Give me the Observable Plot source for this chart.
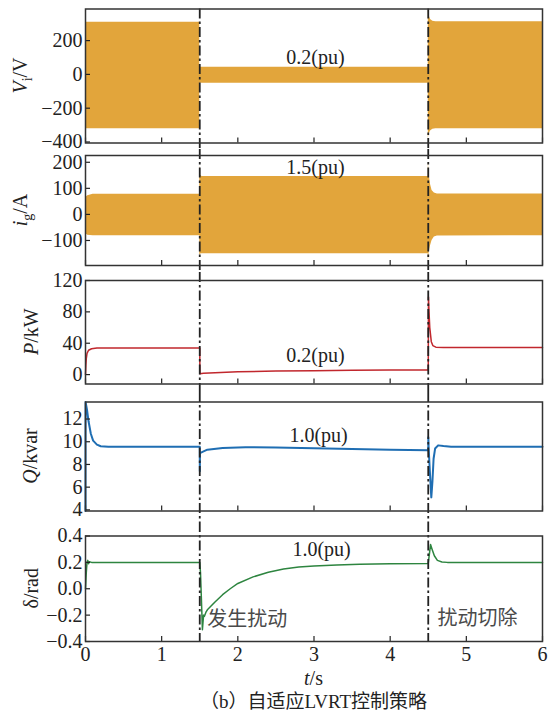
<!DOCTYPE html>
<html><head><meta charset="utf-8">
<script src="https://cdn.jsdelivr.net/npm/d3@7"></script>
<script src="https://cdn.jsdelivr.net/npm/@observablehq/plot@0.6"></script>
<style>
body{margin:0;background:#fff;}
#wrap{position:relative;width:555px;height:715px;overflow:hidden;}
.panel{position:absolute;left:0;font-family:"Liberation Serif",serif !important;}
#caption{position:absolute;left:85px;width:457px;top:692px;line-height:20px;text-align:center;font-family:"Liberation Serif","Noto Sans CJK SC",serif;font-size:19px;color:#222;}
</style></head><body><div id="wrap"></div>
<script>
// ---- data ----
const xTicks = [0, 1, 2, 3, 4, 5, 6];
const faultT = [1.5, 4.5];

// inverter voltage envelope (V)
const viT  = [0, 1.5, 1.5, 4.5, 4.501, 4.51, 4.53, 4.56, 4.6, 6];
const viHi = [308, 308, 42, 42, 382, 350, 325, 314, 311, 311];
const viLo = [-322, -322, -52, -52, -380, -355, -335, -325, -322, -322];
const viTicks = [-400, -200, 0, 200];

// grid current envelope (A)
const igT  = [0, 0.03, 0.1, 1.5, 1.5, 1.51, 1.53, 4.5, 4.502, 4.51, 4.53, 4.55, 4.58, 4.62, 6];
const igHi = [64, 72, 77, 77, 187, 150, 145, 145, 200, 157, 115, 92, 82, 78, 78];
const igLo = [-74, -80, -82, -82, -157, -152, -151, -151, -183, -150, -120, -100, -87, -83, -82];
const igTicks = [-100, 0, 100, 200];

// active power (kW)
const pT = [0, 0.005, 0.01, 0.02, 0.04, 0.08, 0.15, 1.5, 1.502, 1.55, 2, 2.5, 3, 3.5, 4, 4.5, 4.503, 4.51, 4.52, 4.54, 4.56, 4.6, 4.7, 6];
const pV = [0, 12, 20, 27, 31, 33, 34, 34, 1, 1.8, 3.5, 4.5, 5, 5.4, 5.7, 6, 99, 80, 60, 42, 37, 35, 34.5, 34.5];
const pTicks = [0, 40, 80, 120];

// reactive power (kvar)
const qT = [0, 0.001, 0.02, 0.04, 0.07, 0.1, 0.15, 0.2, 0.3, 1.5, 1.501, 1.503, 1.55, 1.6, 1.8, 2.1, 2.5, 3, 3.5, 4, 4.5, 4.501, 4.505, 4.52, 4.54, 4.555, 4.57, 4.59, 4.63, 4.7, 4.8, 6];
const qV = [3.9, 13.5, 12.8, 11.8, 10.7, 10.1, 9.75, 9.6, 9.55, 9.55, 7.4, 9.0, 9.15, 9.3, 9.45, 9.52, 9.5, 9.42, 9.35, 9.3, 9.25, 10.4, 9.5, 7.5, 5.1, 6.5, 8.5, 9.4, 9.68, 9.62, 9.55, 9.55];
const qTicks = [4, 6, 8, 10, 12];

// power angle (rad)
const dT = [0, 0.01, 0.02, 0.03, 0.04, 0.05, 0.08, 1.5, 1.51, 1.52, 1.535, 1.55, 1.56, 1.58, 1.6, 1.7, 1.8, 1.9, 2.0, 2.2, 2.4, 2.6, 2.8, 3.0, 3.3, 3.6, 4.0, 4.5, 4.53, 4.55, 4.58, 4.62, 4.68, 4.75, 6];
const dV = [0, 0.12, 0.2, 0.215, 0.19, 0.205, 0.2, 0.2, 0.12, -0.05, -0.31, -0.2, -0.21, -0.18, -0.16, -0.1, -0.045, 0.0, 0.04, 0.09, 0.125, 0.15, 0.165, 0.173, 0.181, 0.186, 0.19, 0.192, 0.335, 0.3, 0.25, 0.215, 0.203, 0.2, 0.2];
const dTicks = [-0.4, -0.2, 0, 0.2, 0.4];

// ---- build ----
const ORANGE = "#e2a53b", RED = "#c1272d", BLUE = "#1f6eb3", GREEN = "#2e8540";
const env = (T, H, L) => T.map((t, i) => ({t, hi: H[i], lo: L[i]}));
const ser = (T, V) => T.map((t, i) => ({t, v: V[i]}));
const wrap = document.getElementById("wrap");

function panel({top, height, mt, mb, domain, ticks, marks, rTop, rBot, xLabels, label}) {
  const svg = Plot.plot({
    width: 555, height, marginLeft: 85, marginRight: 13, marginTop: mt, marginBottom: mb,
    style: {fontFamily: "Liberation Serif, serif", fontSize: "20px", color: "#222", background: "transparent", overflow: "visible"},
    x: {domain: [0, 6]},
    y: {domain},
    marks: [
      ...marks,
      Plot.ruleX(faultT, {stroke: "#222", strokeWidth: 1.8, strokeDasharray: "10,3,2.5,3", insetTop: rTop, insetBottom: rBot}),
      Plot.axisY({ticks, tickSize: -5, tickPadding: 8, label: null, strokeWidth: 1.2}),
      Plot.axisX({ticks: xTicks, tickSize: -5, tickPadding: 10.5, label: null, strokeWidth: 1.2,
                  tickFormat: xLabels ? (d => String(d)) : (() => "")}),
      Plot.frame({stroke: "#333", strokeWidth: 1.5})
    ]
  });
  svg.classList.add("panel");
  svg.style.top = top + "px";
  const cy = mt + (height - mt - mb) / 2;
  const t = d3.select(svg).append("text")
    .attr("transform", `translate(${label.x},${cy}) rotate(-90)`)
    .attr("text-anchor", "middle")
    .attr("font-family", "Liberation Serif, serif")
    .attr("font-size", 20)
    .attr("fill", "#222");
  label.parts.forEach(p => {
    const s = t.append("tspan").text(p.s);
    if (p.it) s.attr("font-style", "italic");
    if (p.sub) s.attr("font-size", 14).attr("dy", 5);
    if (p.up) s.attr("dy", -5);
  });
  wrap.appendChild(svg);
  return svg;
}

const txt = (s, x, y, extra = {}) => Plot.text([s], {text: d => d, x, y, fontSize: 20, fill: "#222", fontFamily: "Liberation Serif, serif", ...extra});
const cjk = (s, x, y) => Plot.text([s], {text: d => d, x, y, fontSize: 20, fill: "#4a4a4a", textAnchor: "start", fontFamily: "Noto Sans CJK SC, sans-serif"});

panel({top: 0, height: 149, mt: 8.5, mb: 6.5, domain: [-406, 387], ticks: viTicks, rTop: 0, rBot: -6.5,
  label: {x: 27, parts: [{s: "V", it: true}, {s: "i", sub: true}, {s: "/V", up: true}]},
  marks: [Plot.areaY(env(viT, viHi, viLo), {x: "t", y1: "lo", y2: "hi", fill: ORANGE}), txt("0.2(pu)", 3.02, 100)]});

panel({top: 149, height: 123, mt: 6, mb: 7, domain: [-196, 226], ticks: igTicks, rTop: -6, rBot: -7,
  label: {x: 27, parts: [{s: "i", it: true}, {s: "g", sub: true}, {s: "/A", up: true}]},
  marks: [Plot.areaY(env(igT, igHi, igLo), {x: "t", y1: "lo", y2: "hi", fill: ORANGE}), txt("1.5(pu)", 3.02, 181)]});

panel({top: 272, height: 120, mt: 8, mb: 8.5, domain: [-12, 120], ticks: pTicks, rTop: -8, rBot: -8.5,
  label: {x: 37.5, parts: [{s: "P", it: true}, {s: "/kW"}]},
  marks: [Plot.line(ser(pT, pV), {x: "t", y: "v", stroke: RED, strokeWidth: 1.5}), txt("0.2(pu)", 3.02, 24)]});

panel({top: 392, height: 130, mt: 9.5, mb: 11.5, domain: [3.9, 13.5], ticks: qTicks, rTop: -9.5, rBot: -11.5,
  label: {x: 37, parts: [{s: "Q", it: true}, {s: "/kvar"}]},
  marks: [Plot.line(ser(qT, qV), {x: "t", y: "v", stroke: BLUE, strokeWidth: 2}), txt("1.0(pu)", 3.06, 10.55)]});

const last = panel({top: 522, height: 193, mt: 13.5, mb: 74, domain: [-0.4, 0.4], ticks: dTicks, rTop: -13.5, rBot: 0, xLabels: true,
  label: {x: 37.5, parts: [{s: "δ/rad"}]},
  marks: [Plot.line(ser(dT, dV), {x: "t", y: "v", stroke: GREEN, strokeWidth: 1.5}), txt("1.0(pu)", 3.1, 0.30),
          cjk("发生扰动", 1.6, -0.232), cjk("扰动切除", 4.62, -0.228)]});

const xl = d3.select(last).append("text").attr("x", 313.5).attr("y", 163).attr("text-anchor", "middle")
  .attr("font-family", "Liberation Serif, serif").attr("font-size", 20).attr("fill", "#222");
xl.append("tspan").attr("font-style", "italic").text("t");
xl.append("tspan").text("/s");

const cap = document.createElement("div");
cap.id = "caption";
cap.textContent = "（b）自适应LVRT控制策略";
wrap.appendChild(cap);
</script></body></html>
